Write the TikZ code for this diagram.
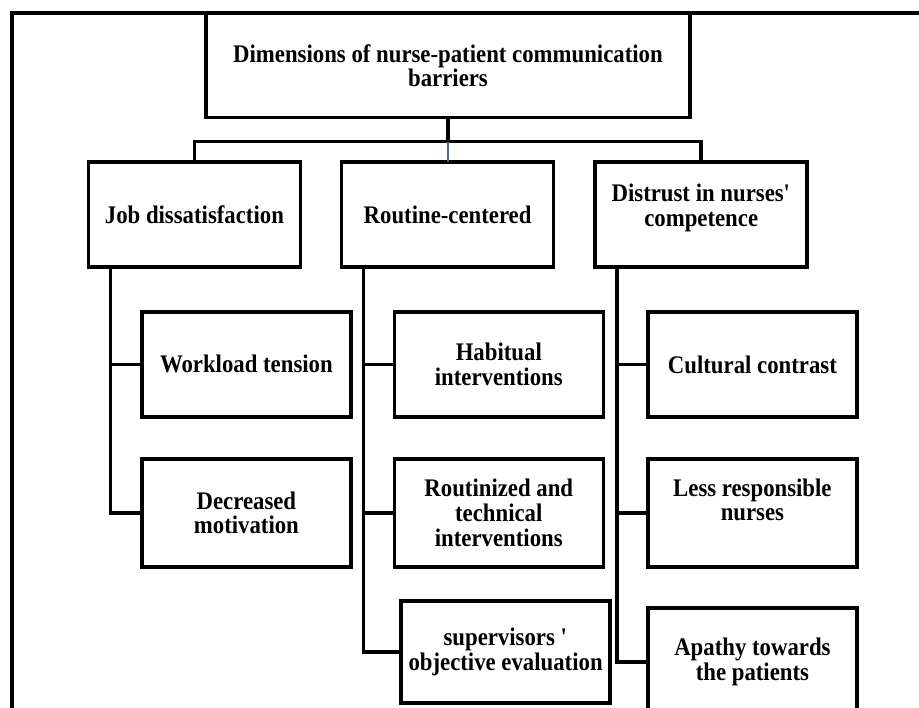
\documentclass[tikz,border=0pt]{standalone}
\usepackage{fontspec}
\setmainfont{Liberation Serif}[FakeStretch=0.9]
\usetikzlibrary{positioning,calc}
\definecolor{ink}{HTML}{000000}
\definecolor{linkblue}{HTML}{3F6A9A}

\begin{document}
\begin{tikzpicture}[font=\fontsize{18}{17.5}\selectfont\bfseries,
  cell/.style={draw=ink, line width=2.5pt, align=center, inner sep=1pt, outer sep=0pt, fill=white},
  rootcell/.style={cell, minimum width=12.1cm, minimum height=2.6cm},
  dimcell/.style={cell, minimum width=5.3cm, minimum height=2.625cm},
  itemcell/.style={cell, minimum width=5.225cm, minimum height=2.625cm},
  link/.style={draw=ink, line width=2.5pt},
  thinlink/.style={draw=linkblue, line width=1.5pt}]
\def\T{0.55}\def\A{6.16}\def\B{12.47}\def\C{18.81}
\useasboundingbox (0,0) rectangle (22.975,-17.7);
\clip (0,0) rectangle (22.975,-17.7);
% ---------------- frame
\draw[link] (0.3,-18) -- (0.3,-0.325) -- (23.2,-0.325);
% ---------------- root and dimensions
\node[rootcell] (root) at (11.2,-1.64) {Dimensions of nurse-patient communication\\ barriers};
\node[dimcell] (job) at (4.86,-5.36) {Job dissatisfaction};
\node[dimcell] (routine) at (11.19,-5.36) {Routine-centered};
\node[dimcell, text depth=0.46cm] (distrust) at (17.53,-5.36) {Distrust in nurses{\textquotesingle}\\ competence};
\coordinate (bus) at ($(root.south)+(0,-0.6)$);
\draw[link] (root.south) -- (bus);
\draw[link] (job.north) |- (bus) -| (distrust.north);
\draw[thinlink] (bus) -- (bus |- routine.north);
% ---------------- items
\node[itemcell] (workload) at (\A,-9.11) {Workload tension};
\node[itemcell, minimum height=2.7cm] (motivation) at (\A,-12.82) {Decreased\\ motivation};
\node[itemcell] (habitual) at (\B,-9.11) {Habitual\\ interventions};
\node[itemcell, minimum height=2.7cm] (technical) at (\B,-12.82) {Routinized and\\ technical\\ interventions};
\node[itemcell, minimum height=2.55cm] (evaluation) at (\B+0.17,-16.3) {supervisors {\textquotesingle}\\ objective evaluation};
\node[itemcell] (cultural) at (\C,-9.11) {Cultural contrast};
\node[itemcell, minimum height=2.7cm, text depth=0.65cm] (responsible) at (\C,-12.82) {Less responsible\\ nurses};
\node[itemcell, minimum height=2.7cm] (apathy) at (\C,-16.55) {Apathy towards\\ the patients};
% ---------------- trunks
\foreach \p/\c in {job/workload, job/motivation, routine/habitual, routine/technical,
                   routine/evaluation, distrust/cultural, distrust/responsible, distrust/apathy}
  \draw[link] ([xshift=\T cm]\p.south west) |- (\c.west);
\end{tikzpicture}
\end{document}
